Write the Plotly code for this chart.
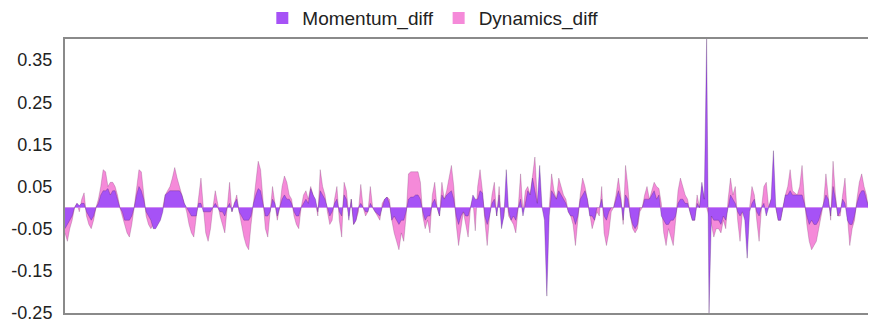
import plotly.graph_objects as go

# Dynamics_diff (pink) values, left to right
dynamics_diff = [
    # segment 1
    -0.06, -0.08, -0.05, -0.03, 0.0, 0.01, -0.01, 0.02, 0.035,
    -0.02, -0.04, -0.05, -0.03, 0.0, 0.02, 0.05, 0.09, 0.085, 0.05,
    0.06, 0.06, 0.05, 0.03, 0.0, -0.02, -0.04, -0.06, -0.07, -0.04,
    0.0, 0.05, 0.09, 0.085, 0.03, -0.02, -0.04, -0.05, -0.04, -0.03,
    -0.02, -0.01, 0.0, 0.03, 0.04, 0.05, 0.07, 0.095, 0.07,
    0.05, 0.03, 0.01, -0.01, -0.04, -0.06, -0.07, -0.02, 0.03,
    # segment 2
    0.07, 0.0, -0.06, -0.08, -0.05, 0.0, 0.04, 0.01, -0.02,
    -0.04, -0.06, 0.0, 0.06, -0.01, 0.01, 0.03, -0.01, -0.04, -0.07,
    -0.09, -0.10, -0.04, 0.01, 0.06, 0.11, 0.09, 0.02, -0.05, -0.07,
    -0.01, 0.05, 0.01, -0.03, 0.0, 0.05, 0.075, 0.06,
    0.03, 0.02, -0.02, -0.04, -0.05, 0.0, 0.03, 0.04, 0.02,
    0.05, 0.03, 0.01, -0.02, 0.09, 0.05, 0.03, -0.01, -0.04, -0.03, 0.02,
    # segment 3
    0.05, -0.03, -0.07, 0.06, 0.04, -0.02, 0.02, -0.04, -0.03,
    -0.01, 0.055, 0.0, -0.02, -0.01, 0.05, 0.0, -0.01, -0.02, -0.03,
    0.01, 0.02, 0.025, 0.02, -0.03, -0.06, -0.08, -0.10,
    -0.06, -0.08, -0.02, 0.08, 0.085, 0.085, 0.085, 0.085, 0.06, -0.02,
    -0.05, -0.03, -0.06, 0.03, 0.06, 0.0, -0.02, 0.06, 0.02, 0.04,
    0.07, 0.10, 0.05, -0.04, -0.09, -0.05, -0.01,
    # segment 4
    -0.04, -0.07, 0.0, 0.02, -0.055, 0.05, 0.09, 0.04, -0.03, -0.09,
    -0.02, 0.03, 0.06, -0.02, 0.05, -0.04, -0.02, 0.03, -0.02, -0.03,
    -0.04, -0.06, 0.0, 0.08, -0.01, 0.04, 0.05, 0.03, 0.08,
    0.12, 0.02, 0.02, 0.0, 0.0, -0.02, 0.0, 0.08, 0.04, 0.02,
    0.07, 0.05, 0.03, 0.02, -0.01, -0.02, -0.04, -0.09, -0.03,
    0.03, 0.07, 0.05, 0.02, -0.02, -0.05, -0.03, -0.01,
    # segment 5
    -0.02, 0.05, -0.06, -0.09, -0.06, -0.01, 0.0, 0.03, 0.07, 0.03,
    -0.04, 0.10, 0.05, -0.02, -0.05, -0.06, -0.05, -0.01, 0.0, 0.03,
    0.05, 0.02, 0.04, 0.06, 0.05, 0.045, 0.01, -0.06, -0.09, -0.05,
    -0.07, -0.09, -0.03, 0.04, 0.07, 0.05, 0.03, 0.02, -0.01, -0.03,
    -0.03, 0.03, 0.0, 0.05, 0.02, 0.0, -0.02, -0.04, -0.07, -0.05,
    -0.05, -0.06, -0.03, -0.05, 0.02, 0.07, 0.03,
    # segment 6
    0.05, -0.03, -0.08, -0.01, -0.01, -0.02, 0.0, 0.05, 0.03, -0.03,
    -0.08, 0.0, 0.05, 0.06, 0.0, 0.02, 0.02, 0.0, -0.03, -0.03,
    0.0, 0.03, 0.05, 0.09, 0.04, 0.035, 0.03, 0.05, 0.10, 0.02, -0.04,
    -0.08, -0.10, -0.09, -0.08, -0.05, -0.02, 0.01, 0.08, 0.03, -0.03, 0.11,
    0.03, -0.02, -0.02, 0.03, 0.07, -0.02, -0.09, -0.05, -0.03, 0.02,
    0.06, 0.08, 0.05, 0.03, -0.01, 0.02, -0.05, -0.08,
]

# Momentum_diff (purple) values, left to right
momentum_diff = [
    # segment 1
    -0.05, -0.04, -0.03, -0.02, 0.0, 0.01, 0.005, 0.01, 0.01,
    -0.01, -0.02, -0.03, -0.02, 0.0, 0.01, 0.03, 0.04, 0.04, 0.045,
    0.03, 0.04, 0.04, 0.02, 0.0, -0.01, -0.03, -0.03, -0.03, -0.02,
    0.0, 0.03, 0.05, 0.04, 0.02, -0.01, -0.02, -0.03, -0.05, -0.05,
    -0.04, -0.03, -0.01, 0.03, 0.035, 0.04, 0.04, 0.04, 0.04,
    0.04, 0.03, 0.01, 0.0, -0.01, -0.02, -0.02, -0.02, 0.01,
    # segment 2
    0.01, -0.01, -0.01, -0.01, -0.01, 0.0, 0.01, 0.0, -0.01,
    -0.01, -0.02, 0.0, 0.01, -0.01, 0.01, 0.02, -0.01, -0.02, -0.03,
    -0.03, -0.03, -0.02, 0.01, 0.03, 0.045, 0.04, 0.01, -0.02, -0.02,
    -0.01, 0.02, 0.01, -0.02, 0.0, 0.02, 0.03, 0.02,
    0.02, 0.01, -0.01, -0.02, -0.02, 0.0, 0.01, 0.02, 0.01,
    0.045, 0.03, 0.02, -0.01, 0.04, 0.03, 0.02, 0.0, -0.02, -0.01, 0.01,
    # segment 3
    0.02, -0.01, -0.02, 0.03, 0.02, -0.03, 0.02, -0.04, -0.03,
    0.0, 0.01, 0.0, -0.01, -0.01, 0.01, 0.0, -0.01, -0.015, -0.02,
    0.0, 0.02, 0.025, 0.01, -0.03, -0.02, -0.03, -0.04,
    -0.03, -0.03, -0.01, 0.02, 0.025, 0.025, 0.03, 0.03, 0.02, -0.01,
    -0.03, -0.02, -0.02, 0.01, 0.02, 0.0, -0.02, 0.03, 0.02, 0.03,
    0.035, 0.04, 0.02, -0.02, -0.04, -0.02, -0.01,
    # segment 4
    -0.02, -0.02, 0.0, 0.03, 0.02, 0.02, 0.04, 0.035, -0.02, -0.04,
    -0.02, 0.01, 0.02, -0.02, 0.03, -0.05, -0.02, 0.09, -0.01, -0.03,
    -0.02, -0.03, 0.0, 0.02, -0.02, 0.01, 0.04, 0.03, 0.07,
    0.04, 0.01, 0.10, 0.0, -0.03, -0.21, -0.02, 0.04, 0.03, 0.02,
    0.04, 0.03, 0.02, 0.01, -0.01, -0.02, -0.02, -0.04, -0.02,
    0.02, 0.03, 0.04, 0.02, -0.02, -0.02, -0.03, 0.0,
    # segment 5
    0.0, 0.02, -0.02, -0.03, -0.01, 0.0, 0.0, 0.02, 0.04, 0.02,
    -0.03, 0.03, 0.02, -0.02, -0.04, -0.05, -0.04, 0.0, 0.0, 0.02,
    0.02, 0.02, 0.03, 0.04, 0.02, 0.03, -0.02, -0.03, -0.04, -0.04,
    -0.03, -0.03, -0.02, 0.01, 0.02, 0.02, 0.01, 0.01, -0.01, -0.03,
    -0.03, 0.01, 0.0, 0.06, 0.02, 0.40, -0.25, -0.02, -0.03, -0.03,
    -0.03, -0.04, -0.02, -0.03, 0.0, 0.03, 0.02,
    # segment 6
    0.01, -0.01, -0.02, -0.01, -0.03, -0.12, -0.01, 0.01, 0.02, -0.01,
    -0.02, 0.0, 0.01, -0.02, 0.0, 0.02, 0.135, 0.0, -0.03, -0.03,
    0.0, 0.03, 0.03, 0.04, 0.03, 0.03, 0.03, 0.03, 0.03, 0.01, -0.02,
    -0.04, -0.03, -0.04, -0.04, -0.03, -0.01, 0.01, 0.03, 0.02, -0.02, 0.05,
    0.02, -0.02, -0.01, 0.02, 0.01, -0.03, -0.04, -0.04, -0.02, 0.01,
    0.03, 0.04, 0.04, 0.02, 0.0, 0.03, -0.02, -0.03,
]

series_names = ["Momentum_diff", "Dynamics_diff"]
series_colors = ["#A652F6", "#F58AD9"]
tick_vals = [-0.25, -0.15, -0.05, 0.05, 0.15, 0.25, 0.35]
tick_labels = ["-0.25", "-0.15", "-0.05", "0.05", "0.15", "0.25", "0.35"]

n = min(len(dynamics_diff), len(momentum_diff))
xs = list(range(n))

fig = go.Figure()
# pink drawn first (behind), purple on top
fig.add_trace(go.Scatter(
    x=xs, y=dynamics_diff[:n], mode="lines", fill="tozeroy",
    line=dict(width=0.8, color="rgba(120,60,110,0.35)"),
    fillcolor=series_colors[1], showlegend=False, hoverinfo="skip"))
fig.add_trace(go.Scatter(
    x=xs, y=momentum_diff[:n], mode="lines", fill="tozeroy",
    line=dict(width=0.8, color="rgba(70,30,90,0.35)"),
    fillcolor=series_colors[0], showlegend=False, hoverinfo="skip"))

# legend entries with square swatches
for name, col in zip(series_names, series_colors):
    fig.add_trace(go.Scatter(
        x=[None], y=[None], mode="markers", name=name,
        marker=dict(symbol="square", size=12, color=col)))

# The page body has an 8px margin, so the figure is sized to the visible area
fig.update_layout(
    width=868, height=314,
    margin=dict(l=57, r=0, t=31, b=9, autoexpand=False),
    paper_bgcolor="white", plot_bgcolor="white",
    font=dict(family="Liberation Sans, Arial, sans-serif", size=19, color="#222"),
    showlegend=True,
    legend=dict(orientation="h", xref="container", yref="container",
                x=0.49, xanchor="center", y=0.968, yanchor="middle",
                bgcolor="rgba(0,0,0,0)",
                font=dict(size=19, color="#222"), itemsizing="constant",
                itemwidth=30, tracegroupgap=0),
)
fig.update_xaxes(range=[0, n - 1], showticklabels=False, showgrid=False, zeroline=False,
                 showline=True, linecolor="#8a8a8a", linewidth=2, mirror=True, ticks="",
                 automargin=False)
fig.update_yaxes(range=[-0.2501, 0.40], tickvals=tick_vals, ticktext=tick_labels,
                 showgrid=False, zeroline=False, showline=True, linecolor="#8a8a8a",
                 linewidth=2, ticks="", ticklabelstandoff=7, automargin=False,
                 ticklabeloverflow="allow",
                 tickfont=dict(size=18, color="#222"))

fig.write_html("out.html")
